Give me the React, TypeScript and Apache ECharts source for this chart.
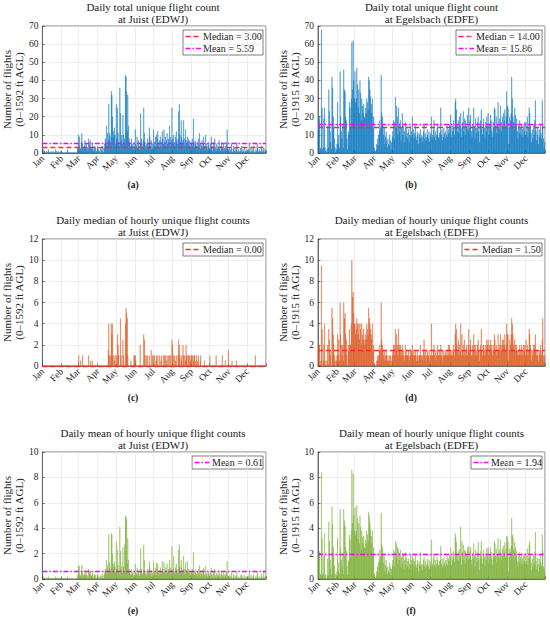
import React, { useEffect, useRef } from "react";
import * as echarts from "echarts";

const MONTHS = ["Jan", "Feb", "Mar", "Apr", "May", "Jun", "Jul", "Aug", "Sep", "Oct", "Nov", "Dec"];
const MONTH_DAYS = [31, 28, 31, 30, 31, 30, 31, 31, 30, 31, 30, 31];

// (a) Daily total unique flight count at Juist (EDWJ)
const juistTotal = [
  1,0,2,1,0,0,1,0,0,2,1,0,0,0,1,0,0,1,0,0,0,2,1,0,0,1,0,0,0,1,0,
  0,0,0,0,0,0,0,0,0,1,2,0,0,0,0,0,0,0,0,0,0,0,0,0,0,0,3,10,
  4,9,3,2,6,11,5,3,2,4,7,3,5,2,3,1,8,6,4,7,3,2,5,3,1,2,4,3,0,1,3,
  4,2,0,1,3,0,2,4,1,0,3,5,8,6,15,4,11,7,27,11,9,6,34,32,20,12,9,14,10,5,
  27,8,25,11,6,4,36,22,7,10,5,21,10,6,8,43,42,34,12,32,15,8,6,4,3,8,5,4,2,6,3,
  13,5,4,9,3,7,4,2,6,22,8,5,3,7,25,11,6,4,2,5,8,3,6,14,9,4,7,2,5,3,
  13,6,4,9,3,10,8,12,5,3,7,9,4,6,12,8,5,13,6,9,4,7,11,5,8,6,15,9,4,7,25,
  8,5,10,6,4,9,12,7,5,8,23,27,10,6,18,9,5,7,18,8,4,13,7,5,9,6,8,4,7,3,6,
  5,8,4,19,6,3,7,5,4,2,6,8,3,11,5,2,4,7,3,5,9,4,2,10,3,5,2,4,6,3,
  2,5,9,3,1,4,6,2,8,3,1,5,2,4,3,7,2,1,4,6,3,2,5,1,3,4,2,6,13,3,2,
  1,3,0,2,5,1,0,4,2,1,3,0,2,6,1,0,2,1,0,3,1,4,0,2,1,0,3,1,0,2,
  1,0,2,5,1,0,3,1,0,2,4,1,0,0,2,1,5,3,0,1,2,0,1,4,2,0,1,3,0,2,1,
];

// (b) Daily total unique flight count at Egelsbach (EDFE)
const egelsbachTotal = [
  12,18,20,2,3,68,25,2,3,19,25,3,1,0,2,15,3,35,23,12,6,2,42,36,20,14,8,3,0,2,5,
  28,5,10,3,45,20,12,8,15,3,46,35,34,20,18,8,2,12,10,28,25,14,30,61,35,62,40,30,
  45,28,30,47,38,25,35,22,40,33,18,30,26,22,27,20,19,25,22,30,28,24,42,40,35,31,27,22,30,14,20,
  3,0,1,2,5,8,4,10,12,18,14,43,22,20,15,10,14,5,9,12,7,3,8,5,4,10,7,2,6,9,
  12,18,8,17,31,14,26,20,10,25,16,12,18,7,14,22,10,15,6,12,17,9,14,8,11,13,6,10,15,9,12,
  20,10,13,8,11,15,9,7,12,10,5,11,9,13,8,10,6,9,12,16,8,11,7,9,13,10,8,12,6,9,
  11,20,8,10,13,18,9,12,7,10,14,16,9,8,11,12,25,10,13,7,9,14,11,8,12,10,15,9,13,11,16,
  13,21,9,15,12,18,14,10,28,30,24,16,12,18,11,20,15,22,9,14,17,23,12,19,10,18,15,13,21,12,25,
  14,18,21,12,9,16,13,25,15,8,19,14,11,17,20,12,6,15,18,24,13,10,16,19,14,9,17,12,20,15,
  22,10,16,13,21,18,12,9,17,14,25,24,15,20,11,16,28,14,19,13,26,17,12,20,15,22,18,24,14,20,34,
  26,25,5,14,20,18,22,42,30,20,17,13,25,21,16,19,12,8,15,11,18,14,10,16,13,9,15,12,17,10,
  17,12,20,9,14,25,22,15,11,6,13,8,16,10,18,29,12,7,14,10,5,13,9,16,11,8,29,15,8,3,6,
];

// (c) Daily median of hourly unique flight counts at Juist (EDWJ)
const juistMedian = [
  0,0,0,0,0,0,0,0,0,0,0,0,0,0,0,0,0,0,0,0,0,0,0,0,0,0,0,0,0,0,0,
  0,0,0,0,0,0,0,0,0,0,0,0,0,0,0,0,0,0,0,0,0,0,0,0,0,0,0,0,
  1,0,0,0.5,0,0,1,0,0,0,0,0,0,0,0,0,1,0,0,0.5,0,0,0.5,0,0,0,0,0,0,0,0,
  0,0,0,0,0,0,0,0,0,0,0,0,0,0,0,0,0,1.5,4,1,0,1,4,3,4,1,0,0.5,1,0,
  1,0,3,2,1,0,0,4.5,1,0,0,2.5,1,0,0,4,5.5,5,4.5,1,0,0,0,0,0.5,0,0,0,0,1,1,
  1,0.5,0,0,0,0,0,0,2,0,0,0,0,0,3,2.5,1,0,1,0,1,0,0,1,0,0,1.5,0,1,0,
  1,0,1,0,0.5,1,0,1,0,0,1,0,0.5,1,0,0,1,0,1,1,0,0.5,1,0,1,0,1,0,1,0,2.5,
  2,1,0,1,0,0.5,1,0,0,1,2.5,2,1,0,0.5,1,0,2,1,0,1,0.5,2,1,0,1,1,0,1,0.5,1,
  1,0,1,0.5,1,1,0,0.5,1,0,0.5,1,0,0,0.5,1,0,0,0,0,0,0.5,0,0,0,0,0,0,0,0,
  1,0,0,0,0,0,0,0,0,0,1,0,0,0,0,0,0,0,0,0,1,0,0,0,0,0.5,0,0,0,0,1.5,
  0,0,0,0,0,0.5,0,0,0,0,0,0,0.5,0,0,0,0,0,0,0,0,0,0,0,0,0,0,0,0,0,
  0,0,0,0,0,0,0,0,0,0,0,0,0,1,0,0,0,0,0,0,0,0,0,0,0,0,0,0,0,0,0,
];

// (d) Daily median of hourly unique flight counts at Egelsbach (EDFE)
const egelsbachMedian = [
  1.5,2,2,0,0.5,9.5,3.5,0,0.5,2,4,0.5,0,0,0.5,2,0,3.5,2.5,1.5,1,0,5.5,4.5,3,2,1,0.5,0,0.5,1,
  3,1,2.5,0.5,6,3,2,1,2,0.5,6,4.5,5,3,2.5,1,0,2,1.5,3.5,2,2,4,10,6.5,7,5,4,
  4,3,3.5,4.5,4,3,4,2.5,4,3.5,2,4,3,2.5,3.5,2,2.5,3,2.5,4,3.5,3,5.5,4.5,4,3.5,3,2.5,4,1.5,2,
  0,0,0,0,0.5,1,0.5,1,1.5,2,1.5,6,2.5,2,1.5,1,1.5,0.5,1,1.5,1,0.5,1,0.5,0.5,1,1,0,0.5,1,
  1.5,2,1,2,3.5,1.5,3,2,1,3.5,2,1.5,2,1,1.5,2,1,1.5,0.5,1,2,1,1.5,1,1,1.5,0.5,1,1.5,1,1.5,
  2,1,1.5,1,1,1.5,1,0.5,1.5,1,0.5,1,1,2,1,1,0.5,1,1.5,2.5,1,1.5,0.5,1,1.5,1,1,1.5,0.5,1,
  1,4,1,1,1.5,2,1,1.5,0.5,1,1.5,2,1,1,1.5,1,2,1,1.5,0.5,1,1.5,1,1,1.5,1,1.5,1,2,1,2,
  1,1.5,1,1.5,1,2,1.5,1,3,4,3.5,2,1.5,2.5,1,2,1.5,4,1,3,1.5,2,1,2.5,1.5,1,2,1.5,1,2,3.5,
  1.5,2,2.5,1,1,2,1.5,3,2,1,2,1.5,1,2,2.5,1.5,0.5,1.5,2,3.5,1.5,1,2,2,1.5,1,2,1.5,2.5,2,
  2.5,1,2,1.5,2.5,2,1.5,1,2,1.5,3,2.5,1.5,2,1,1.5,3,1.5,2,1.5,3,2,1.5,2.5,2,2.5,2,3,1.5,2,4,
  3,3,0.5,1.5,2.5,2,3,4.5,4,3,2,1.5,2.5,2,1.5,2,1.5,1,1.5,1,2,1.5,1,2,1.5,1,2,1.5,2,1,
  2.5,1.5,2,1,1.5,3.5,3,2,1.5,0.5,1.5,1,2,1.5,2,3,1.5,1,1.5,1,0.5,1.5,1,2,1.5,1,2.5,4.5,1,0.5,1,
];

// (e) Daily mean of hourly unique flight counts at Juist (EDWJ)
const juistMean = [
  0.1,0,0.2,0.1,0,0,0.1,0,0,0.2,0.1,0,0,0,0.1,0,0,0.1,0,0,0,0.2,0.1,0,0,0.1,0,0,0,0.1,0,
  0,0,0,0,0,0,0,0,0,0.1,0.2,0,0,0,0,0,0,0,0,0,0,0,0,0,0,0,0.3,1.1,
  0.4,1,0.3,0.2,0.6,1.1,0.5,0.3,0.2,0.4,0.7,0.3,0.5,0.2,0.3,0.1,0.8,0.6,0.4,0.7,0.3,0.2,0.5,0.3,0.1,0.2,0.4,0.3,0,0.1,0.3,
  0.4,0.2,0,0.1,0.3,0,0.2,0.4,0.1,0,0.3,0.5,0.8,0.6,1.5,0.4,1.1,0.7,3.5,1.3,0.9,0.6,3.6,3.5,2,1.2,0.9,1.4,1,0.5,
  2.9,0.8,2.3,1.1,0.6,0.4,4.1,2.2,0.7,1,0.5,2.5,1,0.6,2.7,4.9,5,4.7,1.2,3.2,1.5,0.8,0.6,0.4,0.3,0.8,0.5,0.4,0.2,0.6,0.3,
  1.2,0.5,0.4,0.9,0.3,0.7,0.4,0.2,0.6,2.4,0.8,0.5,0.3,0.7,2.7,1.5,0.6,0.4,0.2,0.5,0.8,0.3,0.6,1.4,0.9,0.4,0.7,0.2,0.5,0.3,
  1.4,0.6,0.4,0.9,0.3,1.3,0.8,1.2,0.5,0.3,0.7,0.9,0.4,0.6,1.4,0.8,0.5,1.3,0.6,0.9,0.4,0.7,1.2,0.5,0.8,0.6,1.5,0.9,0.4,0.7,2.6,
  0.8,0.5,1.8,0.6,0.4,0.9,1.2,0.7,0.5,0.8,2.3,2.7,1,0.6,1.5,0.9,0.5,0.7,1.8,0.8,0.4,1.3,0.7,0.5,1.4,0.6,0.8,0.4,0.7,0.3,0.6,
  0.5,0.8,0.4,2.1,0.6,0.3,0.7,0.5,0.4,0.2,0.6,0.8,0.3,1.1,0.5,0.2,0.4,0.7,0.3,0.5,0.9,0.4,0.2,1,0.3,0.5,0.2,0.4,0.6,0.3,
  0.2,0.5,0.9,0.3,0.1,0.4,0.6,0.2,0.8,0.3,0.1,0.5,0.2,0.4,0.3,0.7,0.2,0.1,0.4,0.6,0.3,0.2,0.5,0.1,0.3,0.4,0.2,0.6,1.4,0.3,0.2,
  0.1,0.3,0,0.2,0.5,0.1,0,0.4,0.2,0.1,0.3,0,0.2,0.6,0.1,0,0.2,0.1,0,0.3,0.1,0.4,0,0.2,0.1,0,0.3,0.1,0,0.2,
  0.1,0,0.2,0.5,0.1,0,0.3,0.1,0,0.2,0.4,0.1,0,0,0.2,0.1,0.6,0.3,0,0.1,0.2,0,0.1,0.4,0.2,0,0.1,0.7,0,0.2,0.1,
];

// (f) Daily mean of hourly unique flight counts at Egelsbach (EDFE)
const egelsbachMean = [
  1.5,2,2.2,0.3,0.4,8.4,3.2,0.3,0.4,1.8,3.6,0.4,0.1,0,0.3,1.6,0.3,4.5,3,1.5,0.8,0.3,5.7,4.3,2.5,1.8,1,0.4,0,0.3,0.6,
  3.2,0.6,1.3,0.4,5.5,2.5,1.5,1,1.9,0.4,5.5,4.6,4.2,2.5,2.2,1,0.3,1.5,1.3,3.5,3.1,1.7,3.8,8.6,4.4,8.3,5,3.8,
  5.6,3.5,3.8,5.8,4.8,3.1,4.4,2.8,5,4.1,2.3,3.8,3.3,2.8,3.4,2.5,2.4,3.1,2.8,3.8,3.5,3,5.3,5,4.4,3.9,3.4,2.8,3.8,1.8,2.5,
  0.4,0.1,0.1,0.3,0.6,1,0.5,1.3,1.5,2.3,1.8,5.2,2.8,2.5,1.9,1.3,1.8,0.6,1.1,1.5,0.9,0.4,1,0.6,0.5,1.3,0.9,0.3,0.8,1.1,
  1.5,2.3,1,2.1,3,1.7,2.8,2.5,1.2,2.4,2,1.5,2.3,0.9,1.7,2,1.2,1.9,0.8,1.5,2.1,1.1,1.7,1,1.4,1.6,0.8,1.2,1.9,1.1,1.5,
  2,1.2,1.6,1,1.4,1.9,1.1,0.9,1.5,1.2,0.6,1.4,1.1,2.1,1,1.2,0.7,1.1,1.5,1.7,1,1.4,0.9,1.1,1.6,1.2,1,1.5,0.8,1.1,
  1.4,3.1,1,1.2,1.6,1.9,1.1,1.5,0.9,1.2,1.7,1.5,1.1,1,1.4,1.5,2.6,1.2,1.6,0.9,1.1,1.7,1.3,1,1.5,1.2,1.8,1.1,1.6,1.4,1.9,
  1.6,2.5,1.1,1.8,1.5,2.2,1.7,1.3,3.6,3.3,2.9,2,1.5,2.2,1.4,2.4,1.8,4.1,1.1,3,2.1,2.7,1.5,2.3,1.2,2.2,1.9,1.6,2.5,1.5,2.6,
  1.7,2.2,2.5,1.5,1.1,2,1.6,2.8,1.9,1,2.3,1.7,1.3,2.1,2.9,1.5,0.7,1.8,2.2,3,1.6,1.2,1.9,2.3,1.7,1.1,2,1.5,2.4,1.8,
  2.5,1.2,1.9,1.6,2.5,2.1,1.5,1.1,2,1.7,3,2.8,1.8,2.4,1.3,1.9,3.2,1.7,2.3,1.6,3.1,2,1.5,2.4,1.8,2.6,2.1,2.9,1.7,2.4,3.4,
  3.3,2.9,0.6,1.7,2.4,2.1,2.6,4.8,3.5,3.3,2.3,1.6,2.9,2.5,1.9,2.2,1.4,1,1.8,1.3,2.1,1.7,1.2,1.9,1.6,1.1,1.8,1.4,2,1.2,
  2,1.4,2.4,1.1,1.7,2.7,3,1.8,1.3,0.7,1.6,1,1.9,1.2,2.1,3.7,1.4,0.8,1.7,1.2,0.6,1.6,1.1,1.9,1.3,1,3.5,2.2,1,0.8,0.5,
];

const MEDIAN_VALUES = [3.0, 14.0, 0.0, 1.5];
const MEAN_VALUES = [5.59, 15.86, 0.61, 1.94];

const FONT = "Liberation Serif, DejaVu Serif, serif";
const AXIS_COLOR = "#262626";
const TEXT_COLOR = "#1a1a1a";
const GRID_COLOR = "#e3e3e3";
const BLUE = "#0072BD";
const ORANGE = "#D95319";
const GREEN = "#77AC30";
const MEDIAN_COLOR = "#ff2a2a";
const MEAN_COLOR = "#ff00ff";
const MEDIAN_DASH = [5, 3];
const MEAN_DASH = [5, 2, 1.5, 2];

const dayCategories: string[] = [];
const monthStart = new Set<number>();
{
  let d = 0;
  MONTH_DAYS.forEach((n, m) => {
    monthStart.add(d);
    for (let i = 1; i <= n; i++) dayCategories.push(MONTHS[m] + " " + i);
    d += n;
  });
}

type Panel = {
  data: number[];
  color: string;
  yMax: number;
  yInterval: number;
  title: string;
  ylabel: string;
  caption: string;
  median?: number;
  mean?: number;
  col: number;
  row: number;
  legendW: number;
};

const panels: Panel[] = [
  { data: juistTotal, color: BLUE, yMax: 70, yInterval: 10, title: "Daily total unique flight count\nat Juist (EDWJ)", ylabel: "Number of flights\n(0–1592 ft AGL)", caption: "(a)", median: MEDIAN_VALUES[0], mean: MEAN_VALUES[0], col: 0, row: 0, legendW: 80 },
  { data: egelsbachTotal, color: BLUE, yMax: 70, yInterval: 10, title: "Daily total unique flight count\nat Egelsbach (EDFE)", ylabel: "Number of flights\n(0–1915 ft AGL)", caption: "(b)", median: MEDIAN_VALUES[1], mean: MEAN_VALUES[1], col: 1, row: 0, legendW: 86 },
  { data: juistMedian, color: ORANGE, yMax: 12, yInterval: 2, title: "Daily median of hourly unique flight counts\nat Juist (EDWJ)", ylabel: "Number of flights\n(0–1592 ft AGL)", caption: "(c)", median: MEDIAN_VALUES[2], col: 0, row: 1, legendW: 80 },
  { data: egelsbachMedian, color: ORANGE, yMax: 12, yInterval: 2, title: "Daily median of hourly unique flight counts\nat Egelsbach (EDFE)", ylabel: "Number of flights\n(0–1915 ft AGL)", caption: "(d)", median: MEDIAN_VALUES[3], col: 1, row: 1, legendW: 80 },
  { data: juistMean, color: GREEN, yMax: 10, yInterval: 2, title: "Daily mean of hourly unique flight counts\nat Juist (EDWJ)", ylabel: "Number of flights\n(0–1592 ft AGL)", caption: "(e)", mean: MEAN_VALUES[2], col: 0, row: 2, legendW: 71 },
  { data: egelsbachMean, color: GREEN, yMax: 10, yInterval: 2, title: "Daily mean of hourly unique flight counts\nat Egelsbach (EDFE)", ylabel: "Number of flights\n(0–1915 ft AGL)", caption: "(f)", mean: MEAN_VALUES[3], col: 1, row: 2, legendW: 71 },
];

const COL_LEFT = [40, 318];
const COL_WIDTH = [226, 227];
const ROW_TOP = [26, 239, 452];
const PLOT_H = 127;
const CAPTION_X = [133, 411];
const CAPTION_Y = [185, 398, 611];
const NAME_GAP = [12, 13.5];

function buildOption() {
  const isMonth = (idx: number) => monthStart.has(idx);
  const grid: any[] = [];
  const xAxis: any[] = [];
  const yAxis: any[] = [];
  const series: any[] = [];
  const graphic: any[] = [];

  panels.forEach((p, i) => {
    const left = COL_LEFT[p.col];
    const width = COL_WIDTH[p.col];
    const top = ROW_TOP[p.row];
    grid.push({ left, width, top, height: PLOT_H, show: true, borderColor: AXIS_COLOR, borderWidth: 0.6, backgroundColor: "transparent" });
    xAxis.push({
      type: "category",
      gridIndex: i,
      data: dayCategories,
      boundaryGap: true,
      axisLine: { lineStyle: { color: AXIS_COLOR, width: 0.6 } },
      axisTick: { show: true, inside: true, length: 2.5, interval: isMonth, lineStyle: { color: AXIS_COLOR, width: 0.6 } },
      axisLabel: {
        interval: isMonth,
        formatter: (v: string) => v.split(" ")[0],
        rotate: 45,
        fontSize: 9.5,
        color: AXIS_COLOR,
        fontFamily: FONT,
        margin: 4,
      },
      splitLine: { show: true, interval: isMonth, lineStyle: { color: GRID_COLOR, width: 0.6 } },
    });
    yAxis.push({
      type: "value",
      gridIndex: i,
      min: 0,
      max: p.yMax,
      interval: p.yInterval,
      axisLine: { show: true, lineStyle: { color: AXIS_COLOR, width: 0.6 } },
      axisTick: { show: true, inside: true, length: 2.5, lineStyle: { color: AXIS_COLOR, width: 0.6 } },
      axisLabel: { fontSize: 9.5, color: AXIS_COLOR, fontFamily: FONT, margin: 4 },
      splitLine: { show: true, lineStyle: { color: GRID_COLOR, width: 0.6 } },
      name: p.ylabel,
      nameLocation: "middle",
      nameGap: NAME_GAP[p.col],
      nameTextStyle: { fontSize: 11, lineHeight: 12, color: AXIS_COLOR, fontFamily: FONT },
    });

    const markData: any[] = [];
    const legendItems: { name: string; color: string; dash: number[] }[] = [];
    if (p.median !== undefined) {
      markData.push({ yAxis: p.median, lineStyle: { color: MEDIAN_COLOR, type: MEDIAN_DASH, width: 1.3, opacity: 1 } });
      legendItems.push({ name: "Median = " + p.median.toFixed(2), color: MEDIAN_COLOR, dash: MEDIAN_DASH });
    }
    if (p.mean !== undefined) {
      markData.push({ yAxis: p.mean, lineStyle: { color: MEAN_COLOR, type: MEAN_DASH, width: 1.3, opacity: 1 } });
      legendItems.push({ name: "Mean = " + p.mean.toFixed(2), color: MEAN_COLOR, dash: MEAN_DASH });
    }

    series.push({
      type: "bar",
      name: "bars" + i,
      xAxisIndex: i,
      yAxisIndex: i,
      data: p.data,
      barWidth: "100%",
      barMinWidth: 0.1,
      itemStyle: { color: p.color, borderColor: p.color, borderWidth: 0.3 },
      silent: true,
      markLine: {
        silent: true,
        symbol: ["none", "none"],
        label: { show: false },
        z: 5,
        data: markData,
      },
    });

    const boxRight = left + width - 3;
    const boxLeft = boxRight - p.legendW;
    const boxTop = top + 4;
    const rowH = 12;
    const boxH = legendItems.length * rowH + 1;
    const children: any[] = [
      { type: "rect", shape: { x: boxLeft, y: boxTop, width: p.legendW, height: boxH }, style: { fill: "#ffffff", stroke: AXIS_COLOR, lineWidth: 0.6 } },
    ];
    legendItems.forEach((it, k) => {
      const cy = boxTop + 6.5 + k * rowH;
      children.push({ type: "line", shape: { x1: boxLeft + 2.5, y1: cy, x2: boxLeft + 18, y2: cy }, style: { stroke: it.color, lineWidth: 1.3, lineDash: it.dash } });
      children.push({ type: "text", x: boxLeft + 20, y: cy, style: { text: it.name, fill: TEXT_COLOR, font: "10px " + FONT, textAlign: "left", textVerticalAlign: "middle" } });
    });
    graphic.push({ type: "group", z: 10, children });

    graphic.push({
      type: "text",
      x: left + width / 2,
      y: top - 25,
      style: { text: p.title, fill: TEXT_COLOR, font: "11px " + FONT, textAlign: "center", textVerticalAlign: "top", lineHeight: 12 },
    });
    graphic.push({
      type: "text",
      x: CAPTION_X[p.col],
      y: CAPTION_Y[p.row],
      style: { text: p.caption, fill: TEXT_COLOR, font: "bold 9.5px " + FONT, textAlign: "center", textVerticalAlign: "middle" },
    });
  });

  return { animation: false, backgroundColor: "#ffffff", grid, xAxis, yAxis, series, graphic };
}

export default function App() {
  const ref = useRef<HTMLDivElement>(null);
  useEffect(() => {
    if (!ref.current) return;
    const chart = echarts.init(ref.current, undefined, { renderer: "svg" });
    chart.setOption(buildOption());
    return () => chart.dispose();
  }, []);
  return <div ref={ref} style={{ position: "absolute", left: 0, top: 0, width: 550, height: 620 }} />;
}
